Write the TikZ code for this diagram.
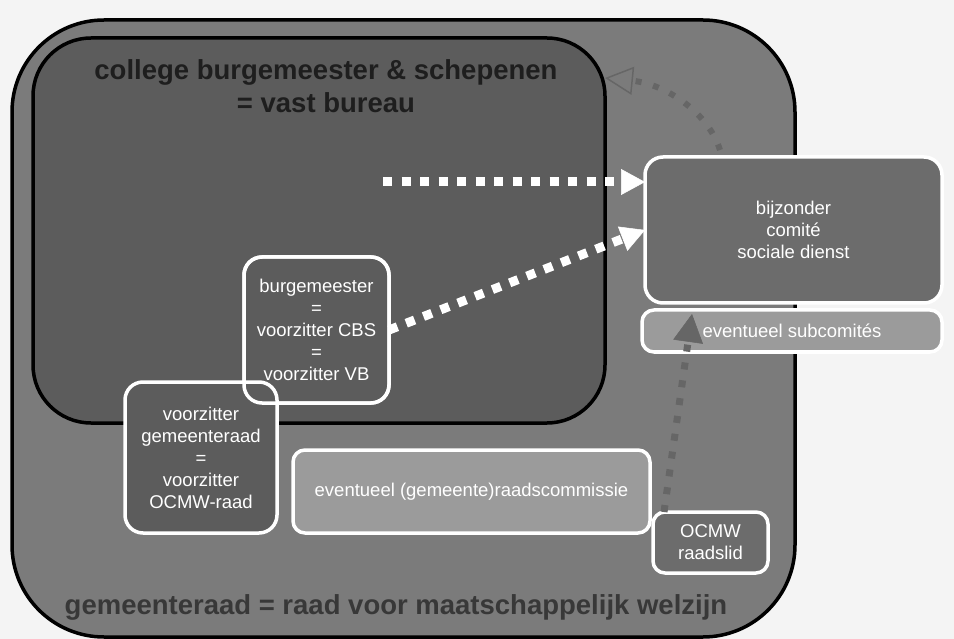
\documentclass[tikz,border=0pt]{standalone}
\usepackage{fontspec}
\setmainfont{Liberation Sans}
\usepackage{tikz}
\usetikzlibrary{arrows.meta}
\definecolor{bg}{HTML}{F4F4F4}
\definecolor{raadgrey}{HTML}{7B7B7B}
\definecolor{collegegrey}{HTML}{5C5C5C}
\definecolor{boxgrey}{HTML}{6C6C6C}
\definecolor{lightgrey}{HTML}{9B9B9B}
\definecolor{dotgrey}{HTML}{666666}
\definecolor{titlegrey}{HTML}{1E1E1E}
\definecolor{footgrey}{HTML}{383838}
\tikzset{panel/.style={draw=black,line width=3.5pt,outer sep=0pt},
    whitebox/.style={draw=white,line width=3.5pt,rounded corners=18pt,outer sep=0pt,
        fill=boxgrey,text=white,align=center,font=\fontsize{18.5}{22}\selectfont},
    lightbox/.style={whitebox,fill=lightgrey,rounded corners=12pt},
    biglabel/.style={text=titlegrey,align=center,font=\fontsize{27.5}{33}\selectfont\bfseries},
    whitearrow/.style={draw=white,line width=9pt,dash pattern=on 9pt off 9.5pt,
        -{Triangle[length=24pt,width=26pt,line width=0.5pt]}},
    greyarrow/.style={draw=dotgrey,line width=6pt,dash pattern=on 6pt off 12pt}}
\begin{document}
\begin{tikzpicture}[x=1pt,y=-1pt]
\fill[bg] (0,0) rectangle (954,639);
\useasboundingbox (0,0) rectangle (954,639);
\node[panel,fill=raadgrey,rounded corners=92pt,minimum width=783pt,minimum height=617pt] (raad) at (403.5,328.5) {};
\node[panel,fill=collegegrey,rounded corners=58pt,minimum width=572pt,minimum height=385pt] (college) at (319,230.5) {};
\node[biglabel] (collegetitle) at (326,86) {college burgemeester \& schepenen\\= vast bureau};
\node[biglabel,text=footgrey] (raadtitle) at (396,607) {gemeenteraad = raad voor maatschappelijk welzijn};
\node[whitebox,minimum width=297pt,minimum height=146pt] (comite) at (793.5,230) {bijzonder\\comité\\sociale dienst};
\node[lightbox,minimum width=300pt,minimum height=42pt] (subcomite) at (792,331) {eventueel subcomités};
\node[whitebox,fill=collegegrey,minimum width=145pt,minimum height=146pt] (burgemeester) at (316.5,330) {burgemeester\\=\\voorzitter CBS\\=\\voorzitter VB};
\node[whitebox,fill=collegegrey,minimum width=152pt,minimum height=151pt] (voorzitter) at (201,457.5) {voorzitter\\gemeenteraad\\=\\voorzitter\\OCMW-raad};
\draw[draw=white,line width=3.5pt,rounded corners=18pt] (burgemeester.south west) rectangle (burgemeester.north east);
\node[lightbox,minimum width=357pt,minimum height=83pt] (commissie) at (471.5,491.5) {eventueel (gemeente)raadscommissie};
\node[whitebox,rounded corners=12pt,minimum width=115pt,minimum height=61pt] (ocmw) at (710.5,542.5) {OCMW\\raadslid};

\coordinate (dotstart) at (383,182);
\draw[whitearrow] (dotstart) -- (dotstart -| comite.west);
\draw[whitearrow] (burgemeester.east) -- (comite.west);
\draw[greyarrow,-{Triangle[open,length=28pt,width=28pt,line width=1.5pt]}] ([xshift=-73.5pt,yshift=7pt]comite.north) .. controls (708,112) and (665,84) .. ([yshift=-40pt]college.north east);
\draw[greyarrow,line width=7pt,dash pattern=on 7pt off 11pt,-{Triangle[length=28pt,width=30pt,line width=0.5pt]}] ([xshift=11pt]ocmw.north west) -- ([xshift=50pt,yshift=-4pt]subcomite.north west);
\end{tikzpicture}
\end{document}
